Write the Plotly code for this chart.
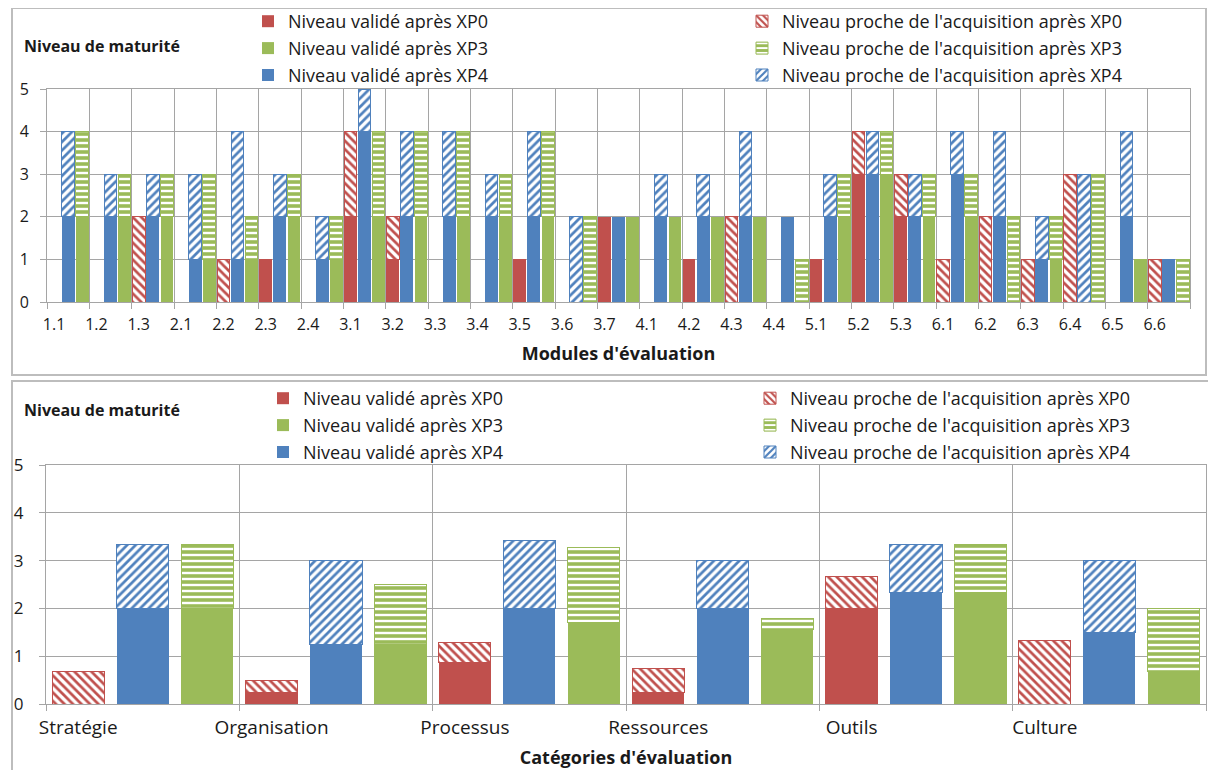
import plotly.graph_objects as go

# ---------------- data: top chart (modules) ----------------
modules = ["1.1", "1.2", "1.3", "2.1", "2.2", "2.3", "2.4", "3.1", "3.2", "3.3", "3.4",
           "3.5", "3.6", "3.7", "4.1", "4.2", "4.3", "4.4", "5.1", "5.2", "5.3", "6.1",
           "6.2", "6.3", "6.4", "6.5", "6.6"]
xp0_valide = [0, 0, 0, 0, 0, 1, 0, 2, 1, 0, 0, 1, 0, 2, 0, 1, 0, 0, 1, 3, 2, 0, 0, 0, 0, 0, 0]
xp0_proche = [0, 0, 2, 0, 1, 0, 0, 2, 1, 0, 0, 0, 0, 0, 0, 0, 2, 0, 0, 1, 1, 1, 2, 1, 3, 0, 1]
xp4_valide = [2, 2, 2, 1, 1, 2, 1, 4, 2, 2, 2, 2, 0, 2, 2, 2, 2, 2, 2, 3, 2, 3, 2, 1, 0, 2, 1]
xp4_proche = [2, 1, 1, 2, 3, 1, 1, 1, 2, 2, 1, 2, 2, 0, 1, 1, 2, 0, 1, 1, 1, 1, 2, 1, 3, 2, 0]
xp3_valide = [2, 2, 2, 1, 1, 2, 1, 2, 2, 2, 2, 2, 0, 2, 2, 2, 2, 0, 2, 3, 2, 2, 0, 1, 0, 1, 0]
xp3_proche = [2, 1, 1, 2, 1, 1, 1, 2, 2, 2, 1, 2, 2, 0, 0, 0, 0, 1, 1, 1, 1, 1, 2, 1, 3, 0, 1]

# ---------------- data: bottom chart (categories) ----------------
categories = ["Stratégie", "Organisation", "Processus", "Ressources", "Outils", "Culture"]
cat_xp0_valide = [0, 0.25, 0.86, 0.25, 2.0, 0]
cat_xp0_proche = [0.67, 0.25, 0.43, 0.5, 0.67, 1.33]
cat_xp4_valide = [2.0, 1.25, 2.0, 2.0, 2.33, 1.5]
cat_xp4_proche = [1.33, 1.75, 1.43, 1.0, 1.0, 1.5]
cat_xp3_valide = [2.0, 1.25, 1.71, 1.55, 2.33, 0.67]
cat_xp3_proche = [1.33, 1.25, 1.57, 0.23, 1.0, 1.33]

# ---------------- style ----------------
OFF = 8                      # page body margin
W, H = 1216 - 2 * OFF, 778 - 2 * OFF
RED, GREEN, BLUE = "#C0504D", "#9BBB59", "#4F81BD"
GRID = "#A5A5A5"
FONT = "Open Sans"
TXT = "#1a1a1a"


def px(x):
    return (x - OFF) / W


def py(y):
    return 1 - (y - OFF) / H


def nz(vals):
    return [v if v else None for v in vals]


series = [  # (label, slot, color, pattern shape, valide, proche, cat valide, cat proche)
    ("XP0", 0, RED, "\\", xp0_valide, xp0_proche, cat_xp0_valide, cat_xp0_proche),
    ("XP3", 2, GREEN, "-", xp3_valide, xp3_proche, cat_xp3_valide, cat_xp3_proche),
    ("XP4", 1, BLUE, "/", xp4_valide, xp4_proche, cat_xp4_valide, cat_xp4_proche),
]

fig = go.Figure()

for chart, (names, xa, ya, width, lg_v, lg_p) in enumerate([
    (modules, "x", "y", 0.30, "legend", "legend2"),
    (categories, "x2", "y2", 0.27, "legend3", "legend4"),
]):
    for label, slot, color, shape, v_top, p_top, v_cat, p_cat in series:
        vals_v = v_top if chart == 0 else v_cat
        vals_p = p_top if chart == 0 else p_cat
        xs = [i + (2 * slot + 1) / 6 for i in range(len(names))]
        solid = 0.45 if shape != "-" else 0.6
        fig.add_trace(go.Bar(
            x=xs, y=nz(vals_v), width=width, xaxis=xa, yaxis=ya,
            name="Niveau validé après " + label,
            legend=lg_v, legendgroup=f"v{chart}{label}",
            marker=dict(color=color, line=dict(width=0)),
            hoverinfo="skip",
        ))
        fig.add_trace(go.Bar(
            x=xs, y=nz(vals_p), width=width, xaxis=xa, yaxis=ya,
            name="Niveau proche de l'acquisition après " + label,
            legend=lg_p, legendgroup=f"p{chart}{label}",
            marker=dict(color="white", line=dict(width=1, color=color),
                        pattern=dict(shape=shape, fgcolor=color, bgcolor="white",
                                     fgopacity=1, size=6, solidity=solid,
                                     fillmode="replace")),
            hoverinfo="skip",
        ))

axis_common = dict(showline=True, linecolor=GRID, linewidth=1, mirror=True, zeroline=False)

fig.update_layout(
    width=W, height=H, barmode="stack",
    margin=dict(l=0, r=0, t=0, b=0, autoexpand=False),
    paper_bgcolor="white", plot_bgcolor="white",
    font=dict(family=FONT, size=16, color=TXT),
    showlegend=True,
    xaxis=dict(domain=[px(47), px(1190)], range=[0, len(modules)], anchor="y",
               tickmode="array", tickvals=[i + 1 / 6 for i in range(len(modules))],
               ticktext=modules, ticks="", showgrid=False, ticklabelstandoff=8,
               tickfont=dict(family=FONT, size=16, color=TXT),
               minor=dict(tickmode="array", tickvals=list(range(len(modules) + 1)),
                          showgrid=True, gridcolor=GRID, ticks="outside", ticklen=6,
                          tickcolor=GRID),
               title=dict(text="<b>Modules d'évaluation</b>", standoff=13,
                          font=dict(family=FONT, size=18, color=TXT)),
               **axis_common),
    yaxis=dict(domain=[py(302), py(89)], range=[0, 5], anchor="x", dtick=1,
               showgrid=True, gridcolor=GRID, ticks="outside", ticklen=6, tickcolor=GRID,
               ticklabelstandoff=8, tickfont=dict(family=FONT, size=16, color=TXT),
               **axis_common),
    xaxis2=dict(domain=[px(46), px(1206)], range=[0, len(categories)], anchor="y2",
                tickmode="array", tickvals=[i + 1 / 6 for i in range(len(categories))],
                ticktext=categories, ticks="", showgrid=False, ticklabelstandoff=6,
                tickfont=dict(family=FONT, size=19, color=TXT),
                minor=dict(tickmode="array", tickvals=list(range(len(categories) + 1)),
                           showgrid=True, gridcolor=GRID, ticks="outside", ticklen=6,
                           tickcolor=GRID),
                title=dict(text="<b>Catégories d'évaluation</b>", standoff=12,
                           font=dict(family=FONT, size=18, color=TXT)),
                **axis_common),
    yaxis2=dict(domain=[py(704), py(465)], range=[0, 5], anchor="x2", dtick=1,
                showgrid=True, gridcolor=GRID, ticks="outside", ticklen=6, tickcolor=GRID,
                ticklabelstandoff=12, tickfont=dict(family=FONT, size=17, color=TXT),
                **axis_common),
)

legend_common = dict(orientation="v", xanchor="left", yanchor="top", bgcolor="rgba(0,0,0,0)",
                     borderwidth=0, tracegroupgap=0.5, itemclick=False, itemdoubleclick=False,
                     font=dict(family=FONT, size=18, color=TXT))
fig.update_layout(
    legend=dict(x=px(248), y=py(3), **legend_common),
    legend2=dict(x=px(742), y=py(3), **legend_common),
    legend3=dict(x=px(263), y=py(380), **legend_common),
    legend4=dict(x=px(750), y=py(380), **legend_common),
)

# chart frames
frame = dict(type="rect", xref="paper", yref="paper", line=dict(color="#BDBDBD", width=2),
             fillcolor="rgba(0,0,0,0)", layer="below")
fig.add_shape(x0=px(12), x1=px(1206), y0=py(375), y1=py(8), **frame)
fig.add_shape(x0=px(12), x1=px(1214), y0=py(800), y1=py(381), **frame)

# y-axis titles
for ytxt in (46, 410):
    fig.add_annotation(text="<b>Niveau de maturité</b>", xref="paper", yref="paper",
                       x=px(22), y=py(ytxt), xanchor="left", yanchor="middle",
                       showarrow=False, font=dict(family=FONT, size=16, color=TXT))

fig.write_html("out.html")
